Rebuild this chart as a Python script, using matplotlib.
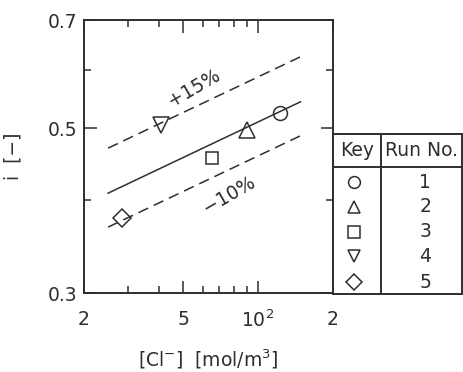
import matplotlib
matplotlib.use("Agg")
import numpy as np
import matplotlib.pyplot as plt
from matplotlib.ticker import FixedLocator, FixedFormatter, NullFormatter

plt.rcParams['font.family'] = ['DejaVu Sans']
plt.rcParams['mathtext.fontset'] = 'dejavusans'

ink = '#2e2e2e'
fs = 13.5

# measured points, one per run
run_no = ['1', '2', '3', '4', '5']
markers = ['o', '^', 's', 'v', 'D']
msizes = [10, 11, 8.5, 11, 9]
conc = [122.7, 90.0, 65.3, 40.9, 28.3]      # [Cl-] mol/m3
i_val = [0.524, 0.498, 0.456, 0.505, 0.379]

# correlation line and +15 / -10 % bands
fit_conc = [25.0, 148.0]
fit_i = [0.409, 0.543]

xticks_major = [20, 50, 100, 200]
xtick_labels = ['2', '5', '$10^2$', '2']
xticks_minor = [30, 40, 60, 70, 80, 90]
yticks_major = [0.3, 0.5, 0.7]
ytick_labels = ['0.3', '0.5', '0.7']
yticks_minor = [0.4, 0.6]

fig = plt.figure(figsize=(4.63, 3.72), dpi=100)
ax = fig.add_axes([84/463, 79/372, 249/463, 273/372])

fi = np.array(fit_i)
ax.plot(fit_conc, fi, '-', color=ink, lw=1.1)
ax.plot(fit_conc, fi*1.15, '--', color=ink, lw=1.1, dashes=(7, 4))
ax.plot(fit_conc, fi*0.90, '--', color=ink, lw=1.1, dashes=(7, 4))

for c, v, m, s in zip(conc, i_val, markers, msizes):
    ax.plot(c, v, m, ms=s, mfc='none', mec=ink, mew=1.1)

ax.text(55.5, 0.567, '+15%', rotation=30, ha='center', va='center', fontsize=fs, color=ink)
ax.text(76.3, 0.407, '\u221210%', rotation=30, ha='center', va='center', fontsize=fs, color=ink)

ax.set_xscale('log')
ax.set_yscale('log')
ax.set_xlim(20, 200)
ax.set_ylim(0.3, 0.7)

ax.xaxis.set_major_locator(FixedLocator(xticks_major))
ax.xaxis.set_major_formatter(FixedFormatter(xtick_labels))
ax.xaxis.set_minor_locator(FixedLocator(xticks_minor))
ax.xaxis.set_minor_formatter(NullFormatter())
ax.yaxis.set_major_locator(FixedLocator(yticks_major))
ax.yaxis.set_major_formatter(FixedFormatter(ytick_labels))
ax.yaxis.set_minor_locator(FixedLocator(yticks_minor))
ax.yaxis.set_minor_formatter(NullFormatter())

ax.tick_params(which='both', direction='in', top=True, right=True, color=ink,
               labelcolor=ink, labelsize=fs)
ax.tick_params(which='major', length=9, width=1.1)
ax.tick_params(which='minor', length=5, width=1.1)
ax.tick_params(axis='x', pad=12)
ax.tick_params(axis='y', pad=5)
for sp in ax.spines.values():
    sp.set_linewidth(1.4)
    sp.set_color(ink)

ax.set_xlabel('[Cl$^{-}$]  [mol/m$^3$]', fontsize=fs, color=ink, labelpad=12)
ax.set_ylabel('i  [\u2212]', fontsize=fs, color=ink, labelpad=18)

# key table
tab = fig.add_axes([333/463, 78/372, 129/463, 160/372])
tab.set_xlim(0, 1)
tab.set_ylim(0, 1)
tab.set_xticks([])
tab.set_yticks([])
for sp in tab.spines.values():
    sp.set_linewidth(1.4)
    sp.set_color(ink)
tab.axhline(0.794, color=ink, lw=1.4)
tab.axvline(0.37, color=ink, lw=1.4)
tab.text(0.185, 0.895, 'Key', ha='center', va='center', fontsize=fs, color=ink)
tab.text(0.685, 0.895, 'Run No.', ha='center', va='center', fontsize=fs, color=ink)
row_y = [0.70, 0.545, 0.39, 0.235, 0.075]
for ry, m, r in zip(row_y, markers, run_no):
    tab.plot(0.16, ry, m, ms=8.5, mfc='none', mec=ink, mew=1.1)
    tab.text(0.715, ry, r, ha='center', va='center', fontsize=fs, color=ink)

fig.savefig('out.png', dpi=100)
